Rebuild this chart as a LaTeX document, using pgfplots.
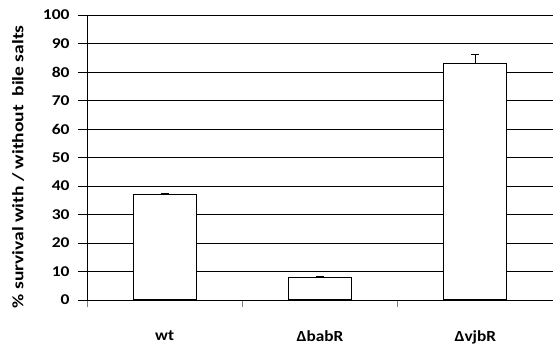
\documentclass[border=0pt]{standalone}
\usepackage{fontspec}
\setmainfont{Carlito}
\newfontfamily\wideA[FakeStretch=1.17]{Carlito}
\newfontfamily\wideB[FakeStretch=1.12]{Carlito}
\newfontfamily\wideC[FakeStretch=1.22]{Carlito}
\usepackage{pgfplots}
\pgfplotsset{compat=1.18}
\begin{document}
\begin{tikzpicture}
\path[use as bounding box] (0,0) rectangle (553bp,345bp);
\begin{axis}[
  at={(87bp,45bp)}, anchor=south west,
  scale only axis, width=466bp, height=285bp,
  xmin=-0.5, xmax=2.5, ymin=0, ymax=100,
  axis x line=bottom, axis y line=left,
  axis line style={-, line width=0.9pt},
  xtick={0,1,2},
  xticklabels={wt,ΔbabR,ΔvjbR},
  major x tick style={draw=none},
  minor xtick={-0.5,0.5,1.5},
  minor x tick style={line width=0.9pt},
  minor tick length=7bp,
  xticklabel style={yshift=-18bp, font=\wideB\fontsize{15.5}{18}\selectfont\bfseries},
  ytick={0,10,...,100},
  tick align=outside,
  major tick length=9bp,
  y tick style={line width=0.9pt, black},
  yticklabel style={xshift=-5bp, font=\wideA\fontsize{15}{18}\selectfont\bfseries},
  ymajorgrids,
  grid style={black, line width=0.9pt},
  /pgf/number format/assume math mode=true,
  ylabel={\% survival with / without\ \ bile salts},
  ylabel style={font=\wideC\fontsize{16}{18}\selectfont\bfseries,
    at={(axis description cs:-0.148,0.467)}, anchor=center},
  clip=false,
]
\addplot[ybar, bar width=63bp, fill=white, draw=black, line width=1.2pt,
  error bars/.cd, y dir=plus, y explicit,
  error bar style={line width=1.2pt, black},
  error mark options={rotate=90, mark size=4bp, line width=1.2pt}]
  coordinates {(0,37.1) +- (0,0.2) (1,8.0) +- (0,0.3) (2,82.9) +- (0,3.3)};
\end{axis}
\end{tikzpicture}
\end{document}
